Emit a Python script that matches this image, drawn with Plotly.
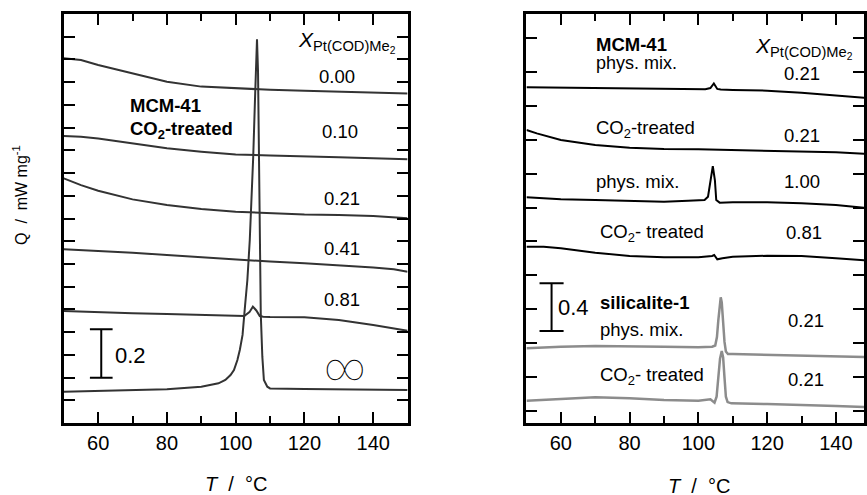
import plotly.graph_objects as go

W, H = 867, 495

# ---------------- data ----------------
# Left panel: MCM-41 CO2-treated, Q in mW/mg (vertically offset curves)
T_L00 = [50, 55, 60, 70, 80, 90, 100, 106, 110, 120, 130, 140, 150]
Q_L00 = [1.507, 1.500, 1.479, 1.446, 1.410, 1.390, 1.383, 1.380, 1.377, 1.373, 1.369, 1.367, 1.362]

T_L10 = [50, 55, 60, 70, 80, 90, 100, 110, 120, 130, 140, 150]
Q_L10 = [1.186, 1.183, 1.176, 1.156, 1.135, 1.121, 1.110, 1.105, 1.100, 1.098, 1.094, 1.090]

T_L21 = [50, 55, 60, 70, 80, 90, 100, 110, 120, 130, 140, 150]
Q_L21 = [1.011, 0.983, 0.960, 0.924, 0.901, 0.884, 0.873, 0.867, 0.862, 0.860, 0.855, 0.846]

T_L41 = [50, 60, 70, 80, 90, 100, 110, 120, 130, 140, 146, 150]
Q_L41 = [0.718, 0.712, 0.704, 0.694, 0.685, 0.674, 0.667, 0.660, 0.653, 0.643, 0.635, 0.625]

T_L81 = [50, 60, 70, 80, 90, 100, 102.5, 104, 105, 106, 107, 108, 110, 120, 125, 130, 140, 150]
Q_L81 = [0.463, 0.457, 0.453, 0.450, 0.446, 0.442, 0.442, 0.458, 0.481, 0.465, 0.442, 0.439, 0.438,
         0.437, 0.433, 0.426, 0.405, 0.381]

T_LINF = [50, 70, 80, 90, 93, 95, 97, 98.5, 99.5, 100.5, 101.2, 102, 102.7, 103.4, 104.1, 104.6,
          105.1, 105.6, 106.2, 106.5, 106.75, 107.0, 107.3, 107.75, 108.2, 109.2, 110, 120, 150]
Q_LINF = [0.129, 0.134, 0.139, 0.150, 0.157, 0.164, 0.178, 0.198, 0.219, 0.260, 0.302, 0.364, 0.481,
          0.591, 0.756, 0.900, 1.100, 1.330, 1.586, 1.450, 1.050, 0.720, 0.450, 0.274, 0.178, 0.150,
          0.143, 0.140, 0.136]

LEFT_LABELS = ["0.00", "0.10", "0.21", "0.41", "0.81", "∞"]

# Right panel
T_R1 = [50, 60, 80, 100, 102, 103.5, 104.5, 105.5, 106.5, 110, 120, 130, 140, 150]
Q_R1 = [2.814, 2.810, 2.806, 2.797, 2.798, 2.808, 2.846, 2.800, 2.795, 2.791, 2.786, 2.769, 2.749, 2.722]

T_R2 = [50, 53, 60, 70, 80, 90, 100, 110, 120, 130, 140, 150]
Q_R2 = [2.456, 2.428, 2.372, 2.330, 2.308, 2.297, 2.294, 2.288, 2.283, 2.280, 2.269, 2.255]

T_R3 = [50, 60, 70, 80, 90, 97, 101.8, 102.8, 103.5, 104.2, 104.8, 105.2, 106.2, 110, 120, 130, 140, 150]
Q_R3 = [1.892, 1.875, 1.869, 1.861, 1.855, 1.862, 1.869, 1.897, 2.037, 2.154, 2.037, 1.869, 1.847,
        1.850, 1.850, 1.842, 1.827, 1.800]

T_R4 = [50, 55, 60, 70, 80, 90, 100, 104, 104.6, 105.5, 107, 110, 120, 130, 140, 150]
Q_R4 = [1.478, 1.478, 1.464, 1.428, 1.400, 1.389, 1.389, 1.400, 1.408, 1.372, 1.381, 1.394, 1.402,
        1.400, 1.381, 1.360]

T_R5 = [50, 60, 70, 80, 90, 100, 104, 104.9, 105.4, 105.8, 106.2, 106.5, 106.8, 107.2, 107.6, 108.0,
        108.6, 110, 120, 130, 140, 150]
Q_R5 = [0.626, 0.640, 0.645, 0.645, 0.640, 0.635, 0.640, 0.650, 0.720, 0.860, 1.000, 1.054, 1.010,
        0.840, 0.680, 0.600, 0.578, 0.578, 0.570, 0.564, 0.556, 0.551]

T_R6 = [50, 60, 70, 80, 90, 100, 103.5, 104.7, 105.3, 105.8, 106.3, 106.8, 107.2, 107.6, 108.0,
        108.5, 109.6, 120, 130, 140, 150]
Q_R6 = [0.187, 0.199, 0.215, 0.207, 0.193, 0.187, 0.199, 0.170, 0.220, 0.380, 0.540, 0.604, 0.550,
        0.380, 0.220, 0.175, 0.165, 0.159, 0.153, 0.143, 0.132]

# scale bars (position T, bottom Q, length in mW/mg)
SCALE_L = (60.9, 0.187, 0.2)
SCALE_R = (57.3, 0.771, 0.4)

X_TICKS = [60, 80, 100, 120, 140]

# ---------------- figure ----------------
FONT = "Liberation Sans, Arial, sans-serif"
DARK = "#333333"
GRAY = "#8c8c8c"

fig = go.Figure()

def curve(T, Q, color, xa, ya, width=2):
    fig.add_trace(go.Scatter(x=T, y=Q, mode="lines", line=dict(color=color, width=width),
                             xaxis=xa, yaxis=ya, showlegend=False, hoverinfo="skip"))

for T, Q in [(T_L00, Q_L00), (T_L10, Q_L10), (T_L21, Q_L21), (T_L41, Q_L41), (T_L81, Q_L81),
             (T_LINF, Q_LINF)]:
    curve(T, Q, DARK, "x", "y")

for T, Q in [(T_R1, Q_R1), (T_R2, Q_R2), (T_R3, Q_R3), (T_R4, Q_R4)]:
    curve(T, Q, "black", "x2", "y2")
for T, Q in [(T_R5, Q_R5), (T_R6, Q_R6)]:
    curve(T, Q, GRAY, "x2", "y2", width=2.5)

def scale_bar(sb, half, xa, ya):
    t, q0, d = sb
    xs = [t - half, t + half, None, t, t, None, t - half, t + half]
    ys = [q0, q0, None, q0, q0 + d, None, q0 + d, q0 + d]
    fig.add_trace(go.Scatter(x=xs, y=ys, mode="lines", line=dict(color="black", width=2),
                             xaxis=xa, yaxis=ya, showlegend=False, hoverinfo="skip"))

scale_bar(SCALE_L, 3.3, "x", "y")
scale_bar(SCALE_R, 3.5, "x2", "y2")

# axes geometry (pixels)
LX0, LX1 = 64, 409
RX0 = 528.3
TOP, BOT = 14, 423
PX_PER_DEG = (LX1 - LX0) / 100.0
R_XMAX = 50 + (W - RX0) / PX_PER_DEG

L_YMAX = (BOT - TOP) / 242.0
R_YMAX = (BOT - TOP) / 119.3

common_x = dict(showline=True, linewidth=2.5, linecolor="black", mirror="allticks",
                ticks="inside", ticklen=11, tickwidth=2, tickcolor="black",
                tickvals=X_TICKS, showgrid=False, zeroline=False,
                tickfont=dict(family=FONT, size=20, color="black"),
                minor=dict(dtick=10, tick0=50, ticks="inside", ticklen=7, tickwidth=2, tickcolor="black",
                           showgrid=False))
common_y = dict(showline=True, linewidth=2.5, linecolor="black", mirror="allticks",
                ticks="inside", ticklen=11, tickwidth=2, tickcolor="black",
                showticklabels=False, showgrid=False, zeroline=False)

fig.update_layout(
    width=W, height=H, margin=dict(l=0, r=0, t=0, b=0),
    paper_bgcolor="white", plot_bgcolor="white",
    xaxis=dict(domain=[LX0 / W, LX1 / W], range=[50, 150], anchor="y", **common_x),
    yaxis=dict(domain=[1 - BOT / H, 1 - TOP / H], range=[0, L_YMAX], tick0=0, dtick=L_YMAX / 18,
               anchor="x", **common_y),
    xaxis2=dict(domain=[RX0 / W, 1.0], range=[50, R_XMAX], anchor="y2", **common_x),
    yaxis2=dict(domain=[1 - BOT / H, 1 - TOP / H], range=[0, R_YMAX], tick0=0.103, dtick=0.2837,
                anchor="x2", **common_y),
)

def ann(text, xpx, ypx, size=18.5, xanchor="center", bold=False, angle=0, family=FONT, weight=None):
    if bold:
        text = "<b>" + text + "</b>"
    font = dict(family=family, size=size, color="black")
    if weight is not None:
        font["weight"] = weight
    fig.add_annotation(text=text, x=xpx / W, y=1 - ypx / H, xref="paper", yref="paper",
                       xanchor=xanchor, yanchor="middle", showarrow=False, textangle=angle,
                       borderpad=0, font=font)

XLAB = "<i>X</i><sub>Pt(COD)Me<sub>2</sub></sub>"

# left annotations
ann(XLAB, 298, 42, size=21, xanchor="left")
for lab, (xp, yp) in zip(LEFT_LABELS[:5], [(338, 76), (341, 132), (343, 198), (343, 248), (343, 299)]):
    ann(lab, xp, yp)
ann(LEFT_LABELS[5], 346, 367, size=38, family="Roboto, Lato, DejaVu Sans, sans-serif", weight=100)
ann("MCM-41", 129, 105, bold=True, xanchor="left")
ann("CO<sub>2</sub>-treated", 129, 130, bold=True, xanchor="left")
ann("0.2", 114, 355, size=22, xanchor="left")

# right annotations
ann(XLAB, 757, 48, size=21, xanchor="left")
ann("MCM-41", 597, 44, bold=True, xanchor="left")
ann("phys. mix.", 597, 63, size=18, xanchor="left")
ann("0.21", 805, 73)
ann("CO<sub>2</sub>-treated", 597, 129, xanchor="left")
ann("0.21", 805, 135)
ann("phys. mix.", 597, 181, xanchor="left")
ann("1.00", 805, 182)
ann("CO<sub>2</sub>- treated", 601, 233, xanchor="left")
ann("0.81", 807, 232)
ann("0.4", 559, 307, size=22, xanchor="left")
ann("silicalite-1", 601, 302, bold=True, xanchor="left")
ann("phys. mix.", 601, 329, xanchor="left")
ann("0.21", 809, 320)
ann("CO<sub>2</sub>- treated", 601, 376, xanchor="left")
ann("0.21", 809, 379)

# axis titles
NB = "\u00a0"
ann("<i>T</i>" + NB * 2 + "/" + NB * 2 + "°C", 237, 484, size=20)
ann("<i>T</i>" + NB * 2 + "/" + NB * 2 + "°C", 701, 486, size=20)
ann("Q" + NB * 2 + "/" + NB * 2 + "mW mg<sup>-1</sup>", 20, 195, size=16, angle=-90)

fig.write_html("out.html", config={"displayModeBar": False},
               post_script="document.body.style.margin='0';document.body.style.overflow='hidden';")
